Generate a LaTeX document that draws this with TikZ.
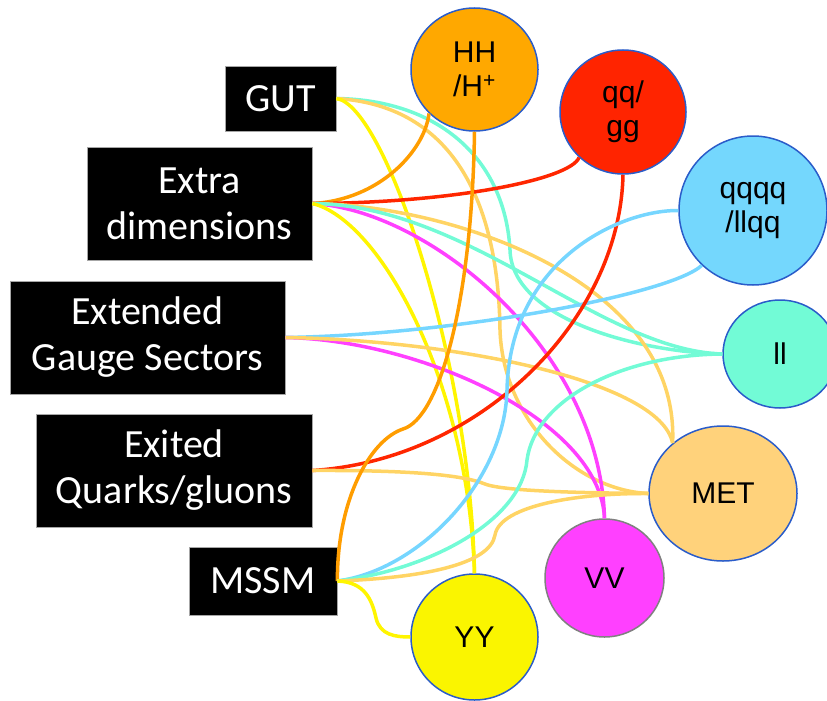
\documentclass[tikz,border=0pt]{standalone}
\usepackage{fontspec}
\setmainfont{Liberation Sans}
\newfontfamily\boxfont{Carlito}
\usetikzlibrary{shapes.geometric}
\definecolor{cTang}{HTML}{FF9D00}
\definecolor{cRed}{HTML}{FF2600}
\definecolor{cSky}{HTML}{76D6FF}
\definecolor{cAqua}{HTML}{73FBD6}
\definecolor{cCant}{HTML}{FFD464}
\definecolor{cMag}{HTML}{FF40FF}
\definecolor{cLemon}{HTML}{FFF500}
\definecolor{fHH}{HTML}{FFA800}
\definecolor{fQG}{HTML}{FF2400}
\definecolor{fQ4}{HTML}{74D7FD}
\definecolor{fLL}{HTML}{72FBD6}
\definecolor{fMET}{HTML}{FFD27B}
\definecolor{fVV}{HTML}{FF40FF}
\definecolor{fYY}{HTML}{FAF500}
\definecolor{cBorder}{HTML}{2A5CC9}
\begin{document}
\begin{tikzpicture}[x=1pt,y=-1pt,
  theory/.style={draw=gray!70, line width=0.8pt, fill=black, text=white,
    font=\boxfont\fontsize{40}{46}\selectfont, align=center, inner sep=0pt},
  final/.style={ellipse, draw=cBorder, line width=1.5pt, inner sep=0pt,
    font=\fontsize{30}{34}\selectfont, align=center},
  conn/.style={line width=3.5pt}]
\useasboundingbox (0,0) rectangle (827,701);
% theories
\node[theory, minimum width=111, minimum height=65] (gut) at (280.5,98.5) {GUT};
\node[theory, minimum width=225, minimum height=113] (xd) at (199.5,203.5) {Extra\\dimensions};
\node[theory, minimum width=275, minimum height=113] (egs) at (147.5,337.5) {Extended\\Gauge Sectors};
\node[theory, minimum width=276, minimum height=113] (eq) at (174,470.5) {Exited\\Quarks/gluons};
\node[theory, minimum width=148, minimum height=68] (mssm) at (263,581) {MSSM};
% final states
\node[final, fill=fHH, minimum width=127, minimum height=123] (hh) at (474.5,69.5) {HH\\/H\textsuperscript{+}};
\node[final, fill=fQG, minimum width=126, minimum height=124] (qg) at (623,112) {qq/\\gg};
\node[final, fill=fQ4, minimum width=148, minimum height=149] (q4) at (753,210.5) {qqqq\\/llqq};
\node[final, fill=fLL, minimum width=114, minimum height=108] (ll) at (780,354) {ll};
\node[final, fill=fMET, minimum width=148, minimum height=135] (met) at (723,493.5) {MET};
\node[final, fill=fVV, draw=gray, minimum width=119, minimum height=118] (vv) at (604.5,578) {VV};
\node[final, fill=fYY, minimum width=127, minimum height=126] (yy) at (474.5,637) {YY};
% GUT
\draw[conn,cAqua] (gut.east) .. controls (440,100) and (505,160) .. (510,250) .. controls (512,320) and (640,352) .. (ll.west);
\draw[conn,cCant] (gut.east) .. controls (445,105) and (498,190) .. (500,330) .. controls (503,420) and (575,490) .. (met.west);
\draw[conn,cLemon] (gut.east) .. controls (385,105) and (470,360) .. (yy.north);
% Extra dimensions
\draw[conn,cTang] (xd.east) .. controls (380,200) and (425,150) .. (hh.224);
\draw[conn,cRed] (xd.east) .. controls (450,203) and (570,180) .. (qg.226);
\draw[conn,cMag] (xd.east) .. controls (430,210) and (600,350) .. (vv.north);
\draw[conn,cCant] (xd.east) .. controls (450,205) and (680,280) .. (met.135);
\draw[conn,cAqua] (xd.east) .. controls (470,205) and (600,350) .. (ll.west);
\draw[conn,cLemon] (xd.east) .. controls (380,220) and (468,380) .. (yy.north);
% Extended Gauge Sectors
\draw[conn,cSky] (egs.east) .. controls (450,335) and (670,295) .. (q4.227);
\draw[conn,cMag] (egs.east) .. controls (420,340) and (600,420) .. (vv.north);
\draw[conn,cCant] (egs.east) .. controls (450,340) and (660,380) .. (met.135);
% Exited Quarks/gluons
\draw[conn,cRed] (qg.south) .. controls (620,320) and (480,460) .. (eq.east);
\draw[conn,cCant] (eq.east) .. controls (420,470) and (465,476) .. (485,484) .. controls (505,492) and (600,493) .. (met.west);
% MSSM
\draw[conn,cTang] (hh.south) .. controls (472,300) and (440,418) .. (403,429) .. controls (370,440) and (337,500) .. (mssm.east);
\draw[conn,cSky] (mssm.east) .. controls (420,570) and (505,480) .. (507,390) .. controls (510,260) and (620,210) .. (q4.west);
\draw[conn,cAqua] (mssm.east) .. controls (430,570) and (522,520) .. (527,460) .. controls (535,400) and (620,355) .. (ll.west);
\draw[conn,cCant] (mssm.east) .. controls (420,578) and (490,565) .. (495,535) .. controls (500,505) and (580,493) .. (met.west);
\draw[conn,cLemon] (mssm.east) .. controls (365,582) and (372,600) .. (376,618) .. controls (380,635) and (395,637) .. (yy.west);
\end{tikzpicture}
\end{document}
